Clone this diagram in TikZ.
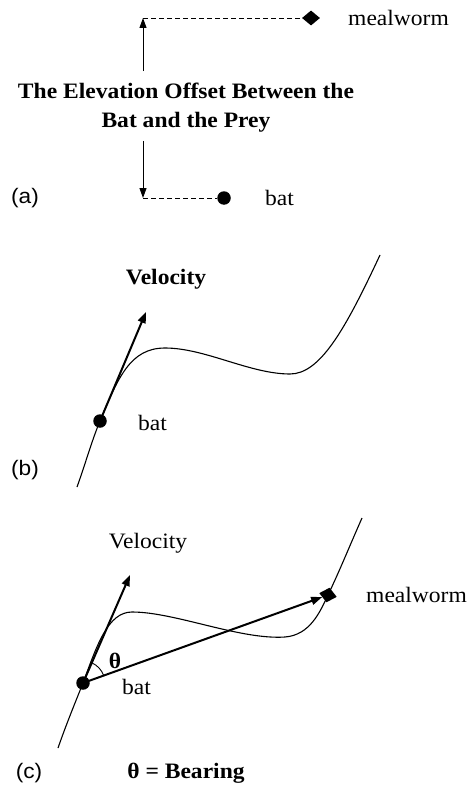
\documentclass[tikz,border=0pt]{standalone}
\usepackage{fontspec}
\setmainfont{Liberation Serif}[FakeStretch=1.07]
\setsansfont{Liberation Sans}[FakeStretch=1.08]
\usetikzlibrary{positioning,shapes.geometric,arrows.meta,calc}

\begin{document}
\begin{tikzpicture}[x=1pt,y={(0,-1pt)},
    dot/.style={circle,fill=black,inner sep=0pt,minimum size=13.5pt},
    prey/.style={diamond,fill=black,inner sep=0pt,minimum width=18pt,minimum height=15pt},
    txt/.style={font=\fontsize{22}{29}\selectfont,inner sep=0pt},
    boldtxt/.style={font=\fontsize{22}{29}\selectfont\bfseries,inner sep=0pt},
    panel/.style={font=\sffamily\fontsize{21}{24}\selectfont,inner sep=0pt},
    guide/.style={dash pattern=on 5pt off 3pt,line width=0.9pt},
    offset-arrow/.style={-{Triangle[length=10pt,width=7pt]},line width=1pt},
    vec/.style={-{Triangle[length=11pt,width=8pt]},line width=2pt},
    path-line/.style={line width=1.1pt}
]
\useasboundingbox (0,0) rectangle (471,789);

% (a) elevation offset
\node[prey] (worm-a) at (311,18) {};
\node[dot] (bat-a) at (224,198) {};
\coordinate (top-a) at (143,18);
\coordinate (bot-a) at (143,198);
\node[txt,anchor=west] (worm-a-lbl) at (348,18) {mealworm};
\node[txt,anchor=west] (bat-a-lbl) at (265,198) {bat};
\node[boldtxt,align=center] (offset) at (186,108) {The Elevation Offset Between the\\Bat and the Prey};
\node[panel] (panel-a) at (25,198) {(a)};

\draw[guide] (top-a) -- (worm-a);
\draw[guide] (bot-a) -- (bat-a);
\draw[offset-arrow] ($(offset.north -| top-a)+(0,-12)$) -- (top-a);
\draw[offset-arrow] ($(offset.south -| bot-a)+(0,8)$) -- (bot-a);

% (b) velocity
\node[dot] (bat-b) at (100,421) {};
\coordinate (vel-b) at (146,312);
\node[boldtxt] (vel-b-lbl) at (166,279) {Velocity};
\node[txt,anchor=west] (bat-b-lbl) at (138,423) {bat};
\node[panel] (panel-b) at (25,470) {(b)};

\draw[path-line] (77,487) .. controls (85,465) and (92,440) .. (bat-b.center)
    .. controls (118,378) and (130,348) .. (165,348)
    .. controls (205,348) and (250,374) .. (290,374)
    .. controls (320,374) and (345,330) .. (380,255);
\draw[vec] (bat-b.center) -- (vel-b);

% (c) bearing
\node[dot] (bat-c) at (83,683) {};
\node[prey,rotate=-12] (worm-c) at (328,595) {};
\coordinate (vel-c) at (130,575);
\node[txt] (vel-c-lbl) at (148,543) {Velocity};
\node[txt,anchor=west] (worm-c-lbl) at (366,595) {mealworm};
\node[txt,anchor=west] (bat-c-lbl) at (122,687) {bat};
\node[boldtxt] (theta) at (115,661) {θ};
\node[panel] (panel-c) at (29,773) {(c)};
\node[boldtxt] (bearing) at (186,773) {θ = Bearing};

\draw[path-line] (58,748) .. controls (66,725) and (75,703) .. (bat-c.center)
    .. controls (97,645) and (108,612) .. (132,612)
    .. controls (175,612) and (240,640) .. (285,637)
    .. controls (310,635) and (320,612) .. (worm-c.center)
    .. controls (340,570) and (350,545) .. (362,518);
\draw[vec] (bat-c.center) -- (vel-c);
\draw[vec] (bat-c.center) -- (worm-c);
\draw[line width=0.9pt] ($(bat-c.center)+(19.7:22pt)$) arc[start angle=19.7,end angle=66,radius=22pt];

\end{tikzpicture}
\end{document}
